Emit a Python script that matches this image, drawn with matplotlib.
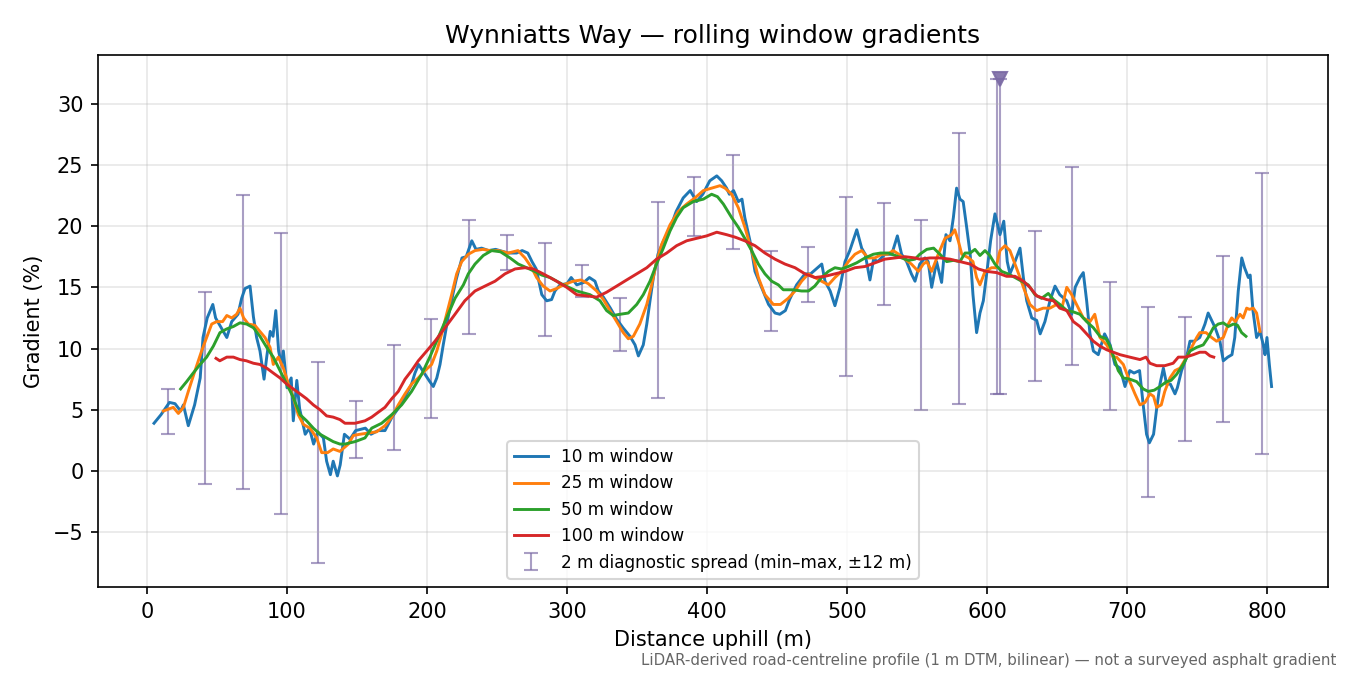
import numpy as np
import matplotlib.pyplot as plt

# 10 m window (distance, gradient %)
d10 = [5, 10, 16, 20, 24, 26, 29.5, 34, 38, 40, 43, 47, 49, 53, 57, 60.5, 65, 67.6, 70, 73.6,
       76, 78.3, 80.7, 83.6, 85.5, 88, 90, 92, 94, 96, 97.4, 100, 103, 104.5, 107, 109, 113, 116,
       119, 122, 126, 128.3, 131, 133, 136, 138, 141, 145, 149, 156, 160, 165, 170, 175, 180, 184,
       189, 191.4, 194, 198.6, 202, 204.5, 207, 209.3, 211.6, 215, 219, 221, 225, 228, 232, 235,
       239, 244, 249, 252, 258, 264, 268, 272, 275, 278, 282, 285.5, 289, 291.4, 295, 300, 303,
       307, 312, 316, 320, 322.4, 326, 331, 335.5, 340, 345, 348.6, 351, 354.5, 357, 359.3, 361.7,
       365, 369, 374, 378, 383, 388, 392.6, 397, 402, 407, 410.5, 414, 416, 419, 422.4, 425, 427,
       430.7, 434.3, 439, 444, 448.6, 452, 456, 459, 464, 470, 474, 478, 482, 484.3, 488, 491.4,
       495, 498.6, 502, 507, 510.5, 513, 516.4, 519, 522, 527, 532, 536, 539, 542.6, 546, 548.6,
       552, 555.7, 558, 560.5, 564, 567.6, 570.7, 573.6, 576, 578.3, 580.7, 583, 585.5, 588, 590,
       592.6, 595, 597.4, 600, 602.6, 605.7, 609.3, 612, 614.5, 616.4, 620, 623.6, 626, 628.4,
       632, 635.5, 638, 641.4, 645, 648.6, 652, 657, 660.5, 663, 666.4, 668.8, 671.2, 673.6, 676,
       679.5, 684, 688, 691.4, 695, 698.6, 702, 705, 709, 711.6, 714, 716, 719, 721, 723.6, 726,
       728.3, 731, 734.3, 736, 739, 742.6, 745, 748, 752, 755.7, 758, 760.5, 763, 766.4, 768.8,
       772, 775, 777, 779.5, 782, 784, 786.7, 788, 790, 792.6, 795, 797.4, 798.6, 800, 801.7, 803.3]
g10 = [3.9, 4.6, 5.6, 5.5, 4.9, 5.4, 3.7, 5.4, 7.6, 10.9, 12.5, 13.6, 12.5, 11.7, 10.9, 12.2, 12.8,
       14.1, 14.9, 15.1, 12.6, 10.9, 9.8, 7.5, 9.3, 11.4, 11.0, 13.1, 9.8, 8.7, 9.8, 6.8, 7.6, 4.1,
       7.4, 5.1, 3.0, 3.5, 2.2, 3.2, 2.7, 0.8, -0.3, 0.8, -0.4, 0.5, 3.0, 2.6, 3.3, 3.5, 3.0, 3.3,
       3.3, 4.4, 5.2, 6.0, 7.1, 8.0, 8.7, 7.9, 7.3, 6.9, 7.6, 8.7, 10.3, 12.5, 14.7, 15.7, 17.4,
       17.5, 18.8, 18.1, 18.2, 18.0, 18.1, 18.0, 17.8, 17.8, 18.0, 17.8, 17.1, 16.5, 14.4, 13.9,
       14.0, 14.7, 15.2, 15.3, 15.8, 15.2, 15.4, 15.8, 15.5, 14.7, 14.2, 13.3, 12.4, 11.7, 11.0,
       10.3, 9.4, 10.3, 12.0, 13.9, 15.8, 17.7, 18.8, 19.9, 21.2, 22.3, 22.9, 22.0, 22.6, 23.7,
       24.1, 23.7, 23.1, 22.6, 22.9, 22.0, 22.2, 20.7, 18.8, 16.3, 15.0, 13.6, 12.9, 12.8, 13.1,
       14.0, 15.2, 16.1, 16.1, 16.5, 16.9, 15.5, 14.7, 13.5, 15.0, 17.1, 18.0, 19.7, 18.2, 17.7,
       15.6, 17.3, 17.1, 17.7, 17.7, 19.2, 17.7, 17.1, 16.1, 15.5, 16.9, 17.4, 17.1, 15.0, 17.1,
       15.4, 19.3, 18.8, 20.7, 23.1, 22.2, 22.0, 19.9, 17.7, 14.4, 11.3, 12.9, 13.9, 16.3, 18.8,
       21.0, 19.3, 20.4, 17.1, 16.1, 17.1, 18.2, 15.8, 13.9, 12.5, 12.3, 11.2, 12.2, 13.9, 15.1,
       14.4, 13.9, 12.8, 15.0, 15.8, 16.2, 13.9, 11.2, 9.8, 9.5, 11.2, 10.3, 8.7, 8.4, 6.9, 8.2,
       8.0, 8.2, 5.4, 3.0, 2.3, 3.0, 4.9, 7.1, 8.4, 7.1, 7.1, 6.3, 6.8, 8.2, 9.3, 10.6, 10.6, 10.9,
       12.0, 12.9, 12.3, 11.7, 10.6, 9.0, 9.3, 9.5, 10.9, 14.7, 17.4, 16.6, 15.8, 16.0, 13.1, 10.9,
       11.4, 10.3, 9.5, 10.9, 8.7, 6.9]

# 25 m window
d25 = [11.7, 18.8, 22.4, 26, 29.5, 34.3, 39, 42.6, 46.2, 49.8, 54, 57, 60.5, 64, 66.4, 69, 72.4,
       77, 80.7, 84.3, 87.9, 90.2, 93.8, 97.4, 101, 104.5, 108, 111.7, 116.4, 121.2, 124.8, 129,
       133, 137.8, 143.8, 147.4, 152, 158, 164, 170, 174.8, 179.5, 184.3, 189, 193.8, 198.6, 203.3,
       207, 210.5, 214, 217.6, 221.2, 224.8, 229.5, 234.3, 240, 245, 251, 258, 265, 270, 274.8,
       278.3, 283, 287.9, 292.6, 297.4, 304.5, 310, 315.2, 321.2, 326, 330.7, 335.5, 340.2, 343.8,
       347.4, 352, 357, 360.5, 364, 367.6, 373.6, 379.5, 385.5, 391.4, 397.4, 403.3, 409.3, 412.9,
       417.6, 422.4, 427.1, 431.9, 436.7, 441.4, 447.4, 452.5, 458, 462.9, 467.6, 472.4, 477,
       481.9, 486.7, 491.4, 496.2, 501, 505.7, 510.5, 515.2, 520, 524.8, 529, 533, 537, 541.4, 546,
       551, 554.5, 557, 560.5, 565.2, 570, 574.8, 577, 579.5, 582, 587, 590, 592.6, 595, 598.6,
       603.3, 606.5, 609.3, 612.9, 616.4, 620, 623.6, 627, 630.7, 635.5, 640.2, 645, 649.8, 653.5,
       657, 660.5, 664, 668.8, 673.6, 677, 680.7, 685.5, 690.2, 692.6, 697.4, 702, 705.7, 709.3,
       712.9, 716.4, 719, 721.2, 724.5, 727, 730.7, 734.3, 737.9, 742.6, 746.2, 749.8, 752,
       756.5, 760.5, 764, 768.8, 772.4, 774.8, 777.5, 780.7, 783, 785.5, 787.5, 790.2, 792.6, 795]
g25 = [4.9, 5.2, 4.7, 5.2, 6.5, 8.2, 9.8, 10.9, 12.0, 12.2, 12.2, 12.7, 12.5, 12.8, 13.3, 12.5,
       12.0, 11.9, 11.4, 10.9, 10.1, 8.7, 9.3, 8.4, 7.1, 6.0, 4.6, 3.8, 3.5, 2.7, 1.5, 1.5, 1.8,
       1.6, 2.2, 2.9, 3.0, 3.1, 3.2, 3.7, 4.4, 5.4, 6.3, 7.1, 7.6, 8.2, 8.7, 9.8, 11.2, 12.8, 14.4,
       16.1, 17.1, 17.7, 18.0, 18.1, 18.0, 18.0, 17.8, 18.0, 17.4, 16.6, 15.8, 15.1, 14.7, 14.9,
       15.2, 15.5, 15.6, 15.3, 14.7, 14.0, 13.1, 12.2, 11.3, 10.8, 11.0, 12.0, 13.6, 15.2, 17.1,
       18.5, 20.1, 21.2, 21.8, 22.3, 22.9, 23.1, 23.3, 23.1, 22.6, 21.5, 19.9, 18.0, 15.8, 14.4,
       13.6, 13.6, 14.1, 14.7, 15.5, 16.1, 15.8, 15.5, 15.2, 15.8, 16.3, 17.1, 17.7, 18.0, 17.4,
       17.4, 17.7, 17.7, 18.0, 17.7, 17.3, 16.9, 16.3, 16.9, 17.1, 16.3, 17.7, 19.0, 19.3, 19.7,
       18.8, 17.7, 17.4, 17.1, 15.8, 15.2, 16.3, 16.6, 16.6, 18.0, 18.4, 18.0, 16.9, 15.8, 14.7,
       13.6, 13.1, 13.3, 13.3, 13.6, 13.3, 15.0, 14.4, 13.6, 12.5, 12.2, 12.8, 10.9, 10.3, 9.3,
       9.3, 8.7, 7.3, 6.3, 5.4, 5.6, 6.3, 6.1, 5.2, 5.4, 6.5, 7.6, 8.2, 8.4, 9.3, 10.1, 10.9, 11.3,
       11.3, 10.9, 10.6, 10.9, 12.0, 12.5, 12.2, 12.8, 12.5, 13.3, 13.2, 13.3, 12.9, 11.4]

# 50 m window
d50 = [24, 28.3, 33, 37.9, 42.6, 47.4, 52.1, 56.9, 61.7, 66.4, 71.2, 76, 80.7, 85.5, 90.2, 95,
       99.8, 104.5, 109.3, 114, 118.8, 123.6, 128.3, 133, 137.8, 141.4, 148.6, 155.7, 160.5,
       167.6, 174.8, 181.9, 189, 196.2, 202, 208, 214, 220, 226, 229.5, 234.3, 240.2, 246.2, 252.5,
       259.3, 265.2, 271.2, 276.9, 282, 287.9, 297.4, 307, 316.4, 323.6, 328.3, 333, 338, 343.8,
       349.8, 354.5, 359.3, 364, 368.8, 373.6, 378.3, 383, 390.2, 397.4, 403.3, 407.5, 411.7,
       417.6, 422.4, 427, 431.9, 436.7, 441.4, 446.2, 451, 454.5, 461, 467.6, 472.5, 477, 481.9,
       486.7, 491.4, 496, 501, 506.9, 512.9, 518.8, 524, 529.5, 534.5, 539, 544, 548.6, 552, 557,
       561.9, 566.4, 571.2, 576, 580.7, 584.3, 588, 591.4, 595, 598.6, 602, 605.7, 610.5, 615,
       620, 624.8, 629.5, 634.3, 639, 643.8, 647.5, 652.1, 657, 661.5, 666.4, 671.2, 676, 680.7,
       685, 687.9, 691.4, 693.8, 697.4, 702, 706.9, 711.6, 715.2, 719.5, 723.6, 728.3, 731.5,
       735.5, 740.2, 745, 749.8, 754.5, 758, 761.7, 765.2, 768.8, 772.4, 776, 779, 781.9, 785]
g50 = [6.7, 7.3, 8.0, 8.7, 9.3, 10.2, 11.3, 11.6, 11.8, 12.1, 12.0, 11.7, 11.0, 10.1, 9.3, 8.2,
       7.1, 6.0, 4.6, 4.1, 3.5, 3.0, 2.7, 2.4, 2.2, 2.2, 2.4, 2.7, 3.5, 3.9, 4.6, 5.4, 6.5, 7.9,
       9.3, 10.9, 12.5, 14.1, 15.2, 16.1, 16.9, 17.6, 18.0, 17.9, 17.4, 16.9, 16.6, 16.3, 16.0,
       15.8, 15.2, 14.7, 14.4, 13.9, 13.1, 12.7, 12.8, 12.9, 13.6, 14.4, 15.5, 16.9, 18.2, 19.6,
       20.7, 21.5, 22.0, 22.2, 22.6, 22.4, 21.8, 20.7, 19.9, 19.0, 18.0, 16.9, 16.1, 15.5, 15.2,
       14.8, 14.8, 14.7, 14.7, 15.1, 15.8, 16.3, 16.6, 16.5, 16.7, 17.0, 17.4, 17.7, 17.8, 17.8,
       17.6, 17.4, 17.2, 17.3, 17.7, 18.1, 18.2, 17.7, 17.1, 17.2, 17.1, 17.8, 17.8, 18.1, 17.6,
       18.0, 17.6, 16.9, 16.3, 16.1, 15.8, 15.5, 15.2, 14.4, 14.1, 14.5, 14.0, 13.6, 13.1, 13.0,
       12.8, 12.2, 11.7, 11.0, 10.8, 10.2, 9.0, 8.2, 7.6, 7.5, 7.3, 6.7, 6.5, 6.6, 6.9, 7.3, 7.4,
       7.9, 8.7, 9.8, 10.1, 10.3, 10.9, 11.7, 12.0, 12.1, 11.8, 12.0, 11.9, 11.3, 11.0]

# 100 m window
d100 = [49.3, 52, 57, 61.7, 66.4, 71, 76, 80.7, 85.5, 90.2, 95, 99.8, 104.5, 109.3, 114, 118.8,
        123.6, 128.3, 133, 137.8, 141.4, 148.6, 155.7, 160.5, 165.2, 170, 174.8, 179.5, 184.3, 189,
        193.8, 199.8, 205.7, 212.9, 220, 227, 234.3, 241.4, 248.6, 255.7, 262.9, 270, 276, 283,
        292.6, 299.8, 306.9, 314, 321.2, 328.3, 335.5, 342.6, 349.8, 357, 364, 371.2, 378.3, 385.5,
        392.6, 399.8, 407, 414, 420, 427, 434.3, 441.4, 448.6, 455.7, 462.9, 470, 477, 484.3,
        491.4, 498.6, 505.7, 512.9, 520, 527.1, 534.3, 541.4, 548.6, 552, 559.3, 566.4, 573.6,
        580.7, 587.9, 593.8, 599.8, 607, 614, 620, 626, 630.7, 635.5, 642.6, 647.5, 652, 657, 661.7,
        666.4, 671.2, 676, 680.7, 685.5, 690.2, 695, 702, 709.3, 713.6, 716.4, 721.2, 727, 733,
        736.7, 742, 747.4, 752, 756, 759.3, 762]
g100 = [9.2, 9.0, 9.3, 9.3, 9.1, 9.0, 8.8, 8.7, 8.4, 8.0, 7.6, 7.1, 6.7, 6.3, 5.9, 5.4, 5.0, 4.5,
        4.4, 4.2, 3.9, 3.9, 4.1, 4.4, 4.8, 5.2, 5.9, 6.5, 7.5, 8.2, 9.0, 9.8, 10.6, 11.7, 12.8,
        13.9, 14.7, 15.1, 15.5, 16.1, 16.5, 16.6, 16.5, 16.1, 15.5, 15.0, 14.4, 14.3, 14.2, 14.6,
        15.1, 15.6, 16.1, 16.6, 17.3, 17.8, 18.4, 18.8, 19.0, 19.2, 19.5, 19.3, 19.1, 18.8, 18.4,
        17.8, 17.3, 16.9, 16.6, 16.1, 15.8, 15.9, 16.1, 16.3, 16.6, 16.7, 17.0, 17.3, 17.4, 17.5,
        17.4, 17.3, 17.4, 17.4, 17.3, 17.1, 16.9, 16.5, 16.3, 16.2, 15.9, 15.9, 15.5, 15.0, 14.3,
        14.0, 13.9, 13.3, 13.1, 12.2, 11.8, 11.2, 10.6, 10.2, 9.9, 9.7, 9.5, 9.3, 9.1, 9.3, 8.8,
        8.6, 8.6, 8.8, 9.3, 9.3, 9.5, 9.7, 9.7, 9.4, 9.3]

# 2 m diagnostic spread (min-max within +-12 m)
spread_d = [15.2, 41.4, 68.4, 95.7, 122.4, 149, 176.4, 202.9, 230, 257.1, 284.3, 310.5, 337.9,
            364.8, 391, 418.8, 445.7, 472.1, 499, 526.4, 552.9, 580.2, 606.9, 609.3, 634.3, 661,
            687.9, 715.2, 741.4, 768.8, 796.2]
spread_lo = [3.0, -1.05, -1.5, -3.5, -7.5, 1.1, 1.75, 4.3, 11.2, 16.4, 11.0, 14.2, 9.8, 6.0, 19.2,
             18.15, 11.4, 13.8, 7.75, 13.55, 4.95, 5.5, 6.3, 6.3, 7.35, 8.65, 5.0, -2.1, 2.45, 4.0,
             1.4]
spread_hi = [6.7, 14.6, 22.5, 19.4, 8.9, 5.7, 10.3, 12.45, 20.5, 19.3, 18.6, 16.8, 14.15, 22.0,
             24.0, 25.8, 18.0, 18.3, 22.4, 21.9, 20.5, 27.6, 32.0, 32.0, 19.6, 24.8, 15.4, 13.4,
             12.6, 17.55, 24.3]
clipped_d = [609.3]
clipped_g = [32.0]

lo = np.array(spread_lo)
hi = np.array(spread_hi)
mid = (lo + hi) / 2
half = (hi - lo) / 2

fig, ax = plt.subplots(figsize=(9, 4.5), dpi=150)
fig.subplots_adjust(left=0.0726, right=0.9837, top=0.9185, bottom=0.1304)

spread_col = '#7b6aa5'
ax.errorbar(spread_d, mid, yerr=half, fmt='none', ecolor=spread_col, elinewidth=1,
            capsize=3.5, alpha=0.65, label='2 m diagnostic spread (min\u2013max, \u00b112 m)', zorder=1)
ax.plot(clipped_d, clipped_g, 'v', color=spread_col, markersize=6.5, alpha=0.9, zorder=1)

ax.plot(d10, g10, color='tab:blue', lw=1.4, label='10 m window', zorder=2)
ax.plot(d25, g25, color='tab:orange', lw=1.4, label='25 m window', zorder=2)
ax.plot(d50, g50, color='tab:green', lw=1.4, label='50 m window', zorder=2)
ax.plot(d100, g100, color='tab:red', lw=1.4, label='100 m window', zorder=2)

ax.set_xlim(-35, 843.6)
ax.set_ylim(-9.47, 33.97)
ax.grid(True, alpha=0.3)
ax.set_xlabel('Distance uphill (m)')
ax.set_ylabel('Gradient (%)')
ax.set_title('Wynniatts Way \u2014 rolling window gradients')
ax.legend(loc='lower center', fontsize=8.1)

fig.text(0.99, 0.01, 'LiDAR-derived road-centreline profile (1 m DTM, bilinear) \u2014 not a surveyed asphalt gradient',
         ha='right', va='bottom', fontsize=7.2, color='0.4')

fig.savefig('out.png', dpi=150)
